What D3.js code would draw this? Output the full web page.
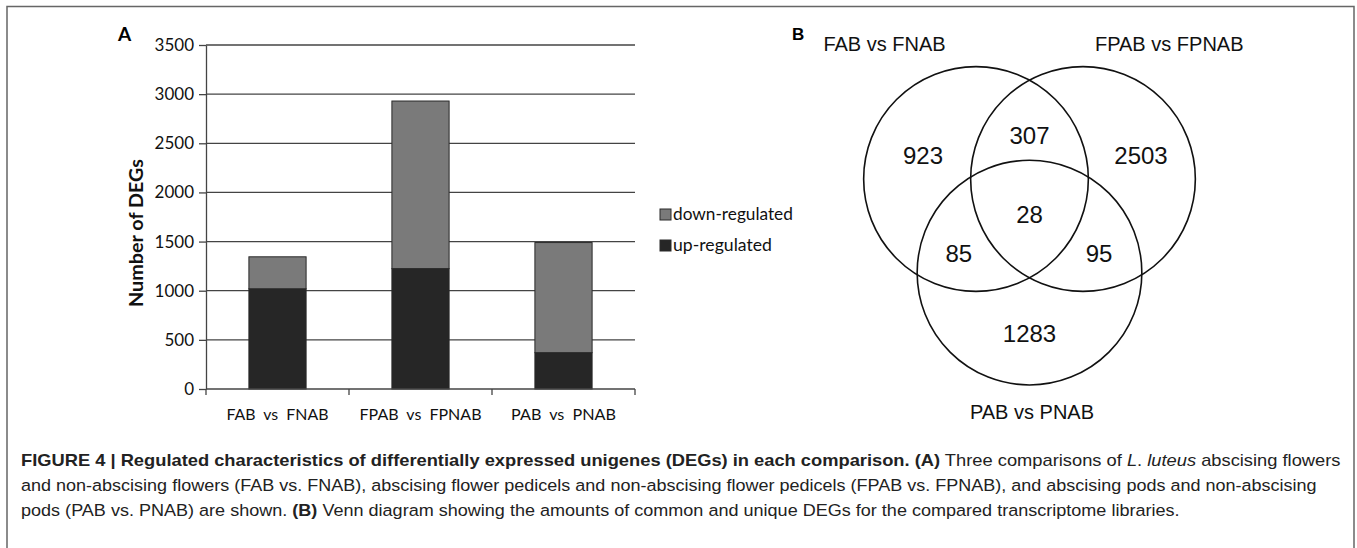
<!DOCTYPE html>
<html><head><meta charset="utf-8">
<script src="https://cdn.jsdelivr.net/npm/d3@7"></script>
<style>body{margin:0;background:#fff;} svg{display:block;}</style>
</head><body>
<svg id="fig" width="1357" height="548"></svg>
<script>
// ---------- data ----------
const categories = ["FAB vs FNAB", "FPAB vs FPNAB", "PAB vs PNAB"];
const upRegulated = [1020, 1225, 370];
const downRegulated = [325, 1705, 1120];
const yTicks = [0, 500, 1000, 1500, 2000, 2500, 3000, 3500];
const seriesNames = ["down-regulated", "up-regulated"];
const yAxisTitle = "Number of DEGs";

const vennSetLabels = ["FAB vs FNAB", "FPAB vs FPNAB", "PAB vs PNAB"];
const vennRegionCounts = [923, 307, 2503, 28, 85, 95, 1283];

const captionLines = [
  [{t: "FIGURE 4 | Regulated characteristics of differentially expressed unigenes (DEGs) in each comparison. (A)", b: 1},
   {t: " Three comparisons of "}, {t: "L", i: 1}, {t: ". "}, {t: "luteus", i: 1}, {t: " abscising flowers"}],
  [{t: "and non-abscising flowers (FAB vs. FNAB), abscising flower pedicels and non-abscising flower pedicels (FPAB vs. FPNAB), and abscising pods and non-abscising"}],
  [{t: "pods (PAB vs. PNAB) are shown. "}, {t: "(B)", b: 1}, {t: " Venn diagram showing the amounts of common and unique DEGs for the compared transcriptome libraries."}]
];

// ---------- layout / styles ----------
const svg = d3.select("#fig");
const colDown = "#7a7a7a", colUp = "#262626";
const calibri = "Lato, 'Open Sans', sans-serif";
const arial = "'Liberation Sans', Arial, sans-serif";

function fitWidth(sel, target, base) {
  const w = sel.node().getBBox().width;
  sel.attr("transform", `${base} scale(${target / w},1)`);
}

// figure frame (left, top, right)
svg.append("path")
  .attr("d", "M7,560 V6.5 H1354 V560")
  .attr("fill", "none").attr("stroke", "#666").attr("stroke-width", 1.5);

// ---------- Panel A ----------
const x = d3.scaleBand().domain(categories).range([206, 635]).paddingInner(0.6).paddingOuter(0.3);
const y = d3.scaleLinear().domain([0, 3500]).range([389, 45]);
const gA = svg.append("g");

// gridlines
gA.selectAll("line.grid").data(yTicks.filter(d => d > 0)).join("line")
  .attr("x1", x.range()[0]).attr("x2", x.range()[1])
  .attr("y1", d => y(d)).attr("y2", d => y(d))
  .attr("stroke", "#444").attr("stroke-width", 1.3);

// stacked bars
const rows = categories.map((c, i) => ({cat: c, up: upRegulated[i], down: downRegulated[i]}));
const stack = d3.stack().keys(["up", "down"])(rows);
const colorOf = {up: colUp, down: colDown};
gA.selectAll("g.layer").data(stack).join("g")
  .attr("fill", d => colorOf[d.key])
  .selectAll("rect").data(d => d).join("rect")
  .attr("x", d => x(d.data.cat)).attr("width", x.bandwidth())
  .attr("y", d => y(d[1])).attr("height", d => y(d[0]) - y(d[1]))
  .attr("stroke", "#2a2a2a").attr("stroke-width", 1);

// y axis
const yAxis = gA.append("g").attr("transform", `translate(${x.range()[0]},0)`)
  .call(d3.axisLeft(y).tickValues(yTicks).tickSizeInner(7).tickSizeOuter(0).tickPadding(5).tickFormat(d3.format("d")));
yAxis.select(".domain").attr("stroke", "#444").attr("stroke-width", 1.3);
yAxis.selectAll(".tick line").attr("stroke", "#444").attr("stroke-width", 1.3);
yAxis.selectAll(".tick text").attr("font-family", calibri).attr("font-size", 17).attr("fill", "#111");

// x axis
gA.append("line").attr("x1", x.range()[0]).attr("x2", x.range()[1])
  .attr("y1", y(0)).attr("y2", y(0)).attr("stroke", "#444").attr("stroke-width", 1.3);
gA.selectAll("line.xt").data(d3.range(categories.length + 1)).join("line")
  .attr("x1", i => x.range()[0] + i * x.step()).attr("x2", i => x.range()[0] + i * x.step())
  .attr("y1", y(0)).attr("y2", y(0) + 6).attr("stroke", "#444").attr("stroke-width", 1.3);
const catWidths = [102, 122, 105];
gA.selectAll("text.xl").data(categories).join("text")
  .attr("text-anchor", "middle").attr("font-family", calibri).attr("font-size", 16)
  .attr("fill", "#111").attr("word-spacing", 4).text(d => d)
  .each(function (d, i) {
    fitWidth(d3.select(this), catWidths[i], `translate(${x(d) + x.bandwidth() / 2},420)`);
  });

// y title
const yt = gA.append("text").attr("text-anchor", "middle").attr("font-family", calibri)
  .attr("font-weight", 700).attr("font-size", 19).attr("fill", "#111").text(yAxisTitle);
fitWidth(yt, 148, "translate(143,233) rotate(-90)");

// panel letter
gA.append("text").attr("x", 118).attr("y", 41).attr("font-family", calibri)
  .attr("font-weight", 700).attr("font-size", 19).text("A");

// legend
const leg = gA.selectAll("g.leg").data(seriesNames).join("g")
  .attr("transform", (d, i) => `translate(660,${209 + i * 31})`);
leg.append("rect").attr("width", 11).attr("height", 11)
  .attr("fill", d => d === "up-regulated" ? colUp : colDown)
  .attr("stroke", "#2a2a2a").attr("stroke-width", 1);
const legW = [120, 99];
leg.append("text").attr("font-family", calibri).attr("font-size", 17).attr("fill", "#111").text(d => d)
  .each(function (d, i) { fitWidth(d3.select(this), legW[i], "translate(13,11)"); });

// ---------- Panel B : Venn ----------
const vennCentres = [[-0.5, 0], [0.5, 0], [0, 0.875]];
const vennRadius = 1.05;
const vennRegionPos = [[-0.995, -0.224], [0, -0.411], [1.042, -0.224], [0, 0.336], [-0.66, 0.70], [0.65, 0.70], [0, 1.44]];
const vennSetLabelPos = [[-1.355, -1.196], [1.306, -1.196], [0.023, 2.243]];
const vx = d3.scaleLinear().domain([0, 1]).range([1029.5, 1136.5]);
const vy = d3.scaleLinear().domain([0, 1]).range([179, 286]);
const gB = svg.append("g");

gB.selectAll("circle").data(vennCentres).join("circle")
  .attr("cx", d => vx(d[0])).attr("cy", d => vy(d[1]))
  .attr("r", vx(vennRadius) - vx(0))
  .attr("fill", "none").attr("stroke", "#111").attr("stroke-width", 1.6);

gB.selectAll("text.cnt").data(vennRegionCounts).join("text")
  .attr("x", (d, i) => vx(vennRegionPos[i][0])).attr("y", (d, i) => vy(vennRegionPos[i][1]) + 8.5)
  .attr("text-anchor", "middle").attr("font-family", arial).attr("font-size", 24)
  .attr("fill", "#111").text(d => d);

gB.selectAll("text.set").data(vennSetLabels).join("text")
  .attr("x", (d, i) => vx(vennSetLabelPos[i][0])).attr("y", (d, i) => vy(vennSetLabelPos[i][1]))
  .attr("text-anchor", "middle").attr("font-family", arial).attr("font-size", 20)
  .attr("fill", "#111").text(d => d);

gB.append("text").attr("x", 792).attr("y", 40).attr("font-family", arial)
  .attr("font-weight", 700).attr("font-size", 17).text("B");

// ---------- Caption ----------
const capTargets = [1320, 1297, 1160];
const capBaselines = [466, 491, 516];
captionLines.forEach((segs, li) => {
  const t = svg.append("text").attr("font-family", arial).attr("font-size", 17).attr("fill", "#222");
  segs.forEach(s => {
    t.append("tspan").attr("font-weight", s.b ? 700 : 400)
      .attr("font-style", s.i ? "italic" : "normal").text(s.t);
  });
  fitWidth(t, capTargets[li], `translate(21,${capBaselines[li]})`);
});
</script>
</body></html>
